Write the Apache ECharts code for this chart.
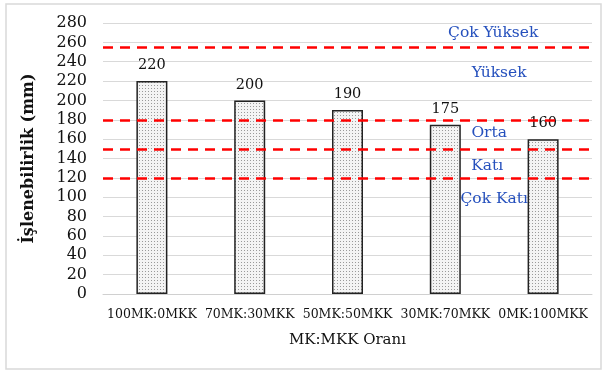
<!DOCTYPE html>
<html>
<head>
<meta charset="utf-8">
<script src="https://cdn.jsdelivr.net/npm/echarts@6/dist/echarts.min.js"></script>
<style>
  html, body { margin: 0; padding: 0; background: #fff; }
  #chart { width: 605px; height: 371px; }
</style>
</head>
<body>
<div id="chart"></div>
<script>
// Mix ratios and measured workability (slump flow, mm)
const categories = ['100MK:0MKK', '70MK:30MKK', '50MK:50MKK', '30MK:70MKK', '0MK:100MKK'];
const workability = [220, 200, 190, 175, 160];

// Class boundaries drawn as dashed red lines
const thresholds = [255, 180, 150, 120];

// Class names with the value each one is written at
const zoneNames = ['Çok Yüksek', 'Yüksek', 'Orta', 'Katı', 'Çok Katı'];
const zoneLabelValues = [270, 228, 166, 132, 98];
const zoneLabelOffsetX = [-1, 5, -5, -7, 0];

const yTicks = { min: 0, max: 280, interval: 20 };

// Dotted fill for the bars
function dotPattern() {
  const c = document.createElement('canvas');
  c.width = 3; c.height = 3;
  const ctx = c.getContext('2d');
  ctx.fillStyle = '#f4f4f4';
  ctx.fillRect(0, 0, 3, 3);
  ctx.fillStyle = '#9a9a9a';
  ctx.fillRect(1, 1, 1, 1);
  return c;
}

const serif = 'DejaVu Serif';
const chart = echarts.init(document.getElementById('chart'));

chart.setOption({
  animation: false,
  backgroundColor: '#fff',
  grid: { left: 103, right: 13, top: 23, bottom: 77 },
  xAxis: {
    type: 'category',
    data: categories,
    name: 'MK:MKK Oranı',
    nameLocation: 'middle',
    nameGap: 39,
    nameTextStyle: { fontFamily: serif, fontSize: 15, color: '#111' },
    axisLine: { lineStyle: { color: '#d0d0d0', width: 1 } },
    axisTick: { show: false },
    axisLabel: { fontFamily: serif, fontSize: 12.5, color: '#111', margin: 14, interval: 0 }
  },
  yAxis: {
    type: 'value',
    min: yTicks.min,
    max: yTicks.max,
    interval: yTicks.interval,
    name: 'İşlenebilirlik (mm)',
    nameLocation: 'middle',
    nameGap: 66,
    nameTextStyle: { fontFamily: serif, fontSize: 16, fontWeight: 'bold', color: '#111' },
    axisLine: { show: false },
    axisTick: { show: false },
    axisLabel: { fontFamily: serif, fontSize: 16, color: '#111', margin: 16 },
    splitLine: { lineStyle: { color: '#d9d9d9', width: 1 } }
  },
  series: [{
    type: 'bar',
    data: workability,
    barWidth: 31,
    itemStyle: {
      color: { image: dotPattern(), repeat: 'repeat' },
      borderColor: '#222',
      borderWidth: 1.5
    },
    label: {
      show: true,
      position: 'top',
      distance: 8,
      fontFamily: serif,
      fontSize: 14.5,
      color: '#111'
    },
    markLine: {
      silent: true,
      symbol: 'none',
      label: { show: false },
      lineStyle: { color: '#ff0000', type: [10, 7], width: 2.5 },
      data: thresholds.map(v => ({ yAxis: v }))
    },
    z: 2
  }]
});

// Class names placed between the dashed lines, at the 30MK:70MKK / 0MK:100MKK gap
function placeZoneLabels() {
  const x3 = chart.convertToPixel({ xAxisIndex: 0 }, categories[3]);
  const x4 = chart.convertToPixel({ xAxisIndex: 0 }, categories[4]);
  const xMid = (x3 + x4) / 2;
  const els = zoneNames.map((name, i) => ({
    type: 'text',
    x: xMid + zoneLabelOffsetX[i],
    y: chart.convertToPixel({ yAxisIndex: 0 }, zoneLabelValues[i]),
    z: 10,
    style: {
      text: name,
      fontFamily: serif,
      fontSize: 15.5,
      fill: '#2550bd',
      align: 'center',
      verticalAlign: 'middle'
    }
  }));
  els.push({
    type: 'rect',
    shape: { x: 6, y: 4, width: 595, height: 365 },
    style: { fill: 'none', stroke: '#d9d9d9', lineWidth: 1.5 },
    z: 0
  });
  chart.setOption({ graphic: els });
}
placeZoneLabels();
</script>
</body>
</html>
